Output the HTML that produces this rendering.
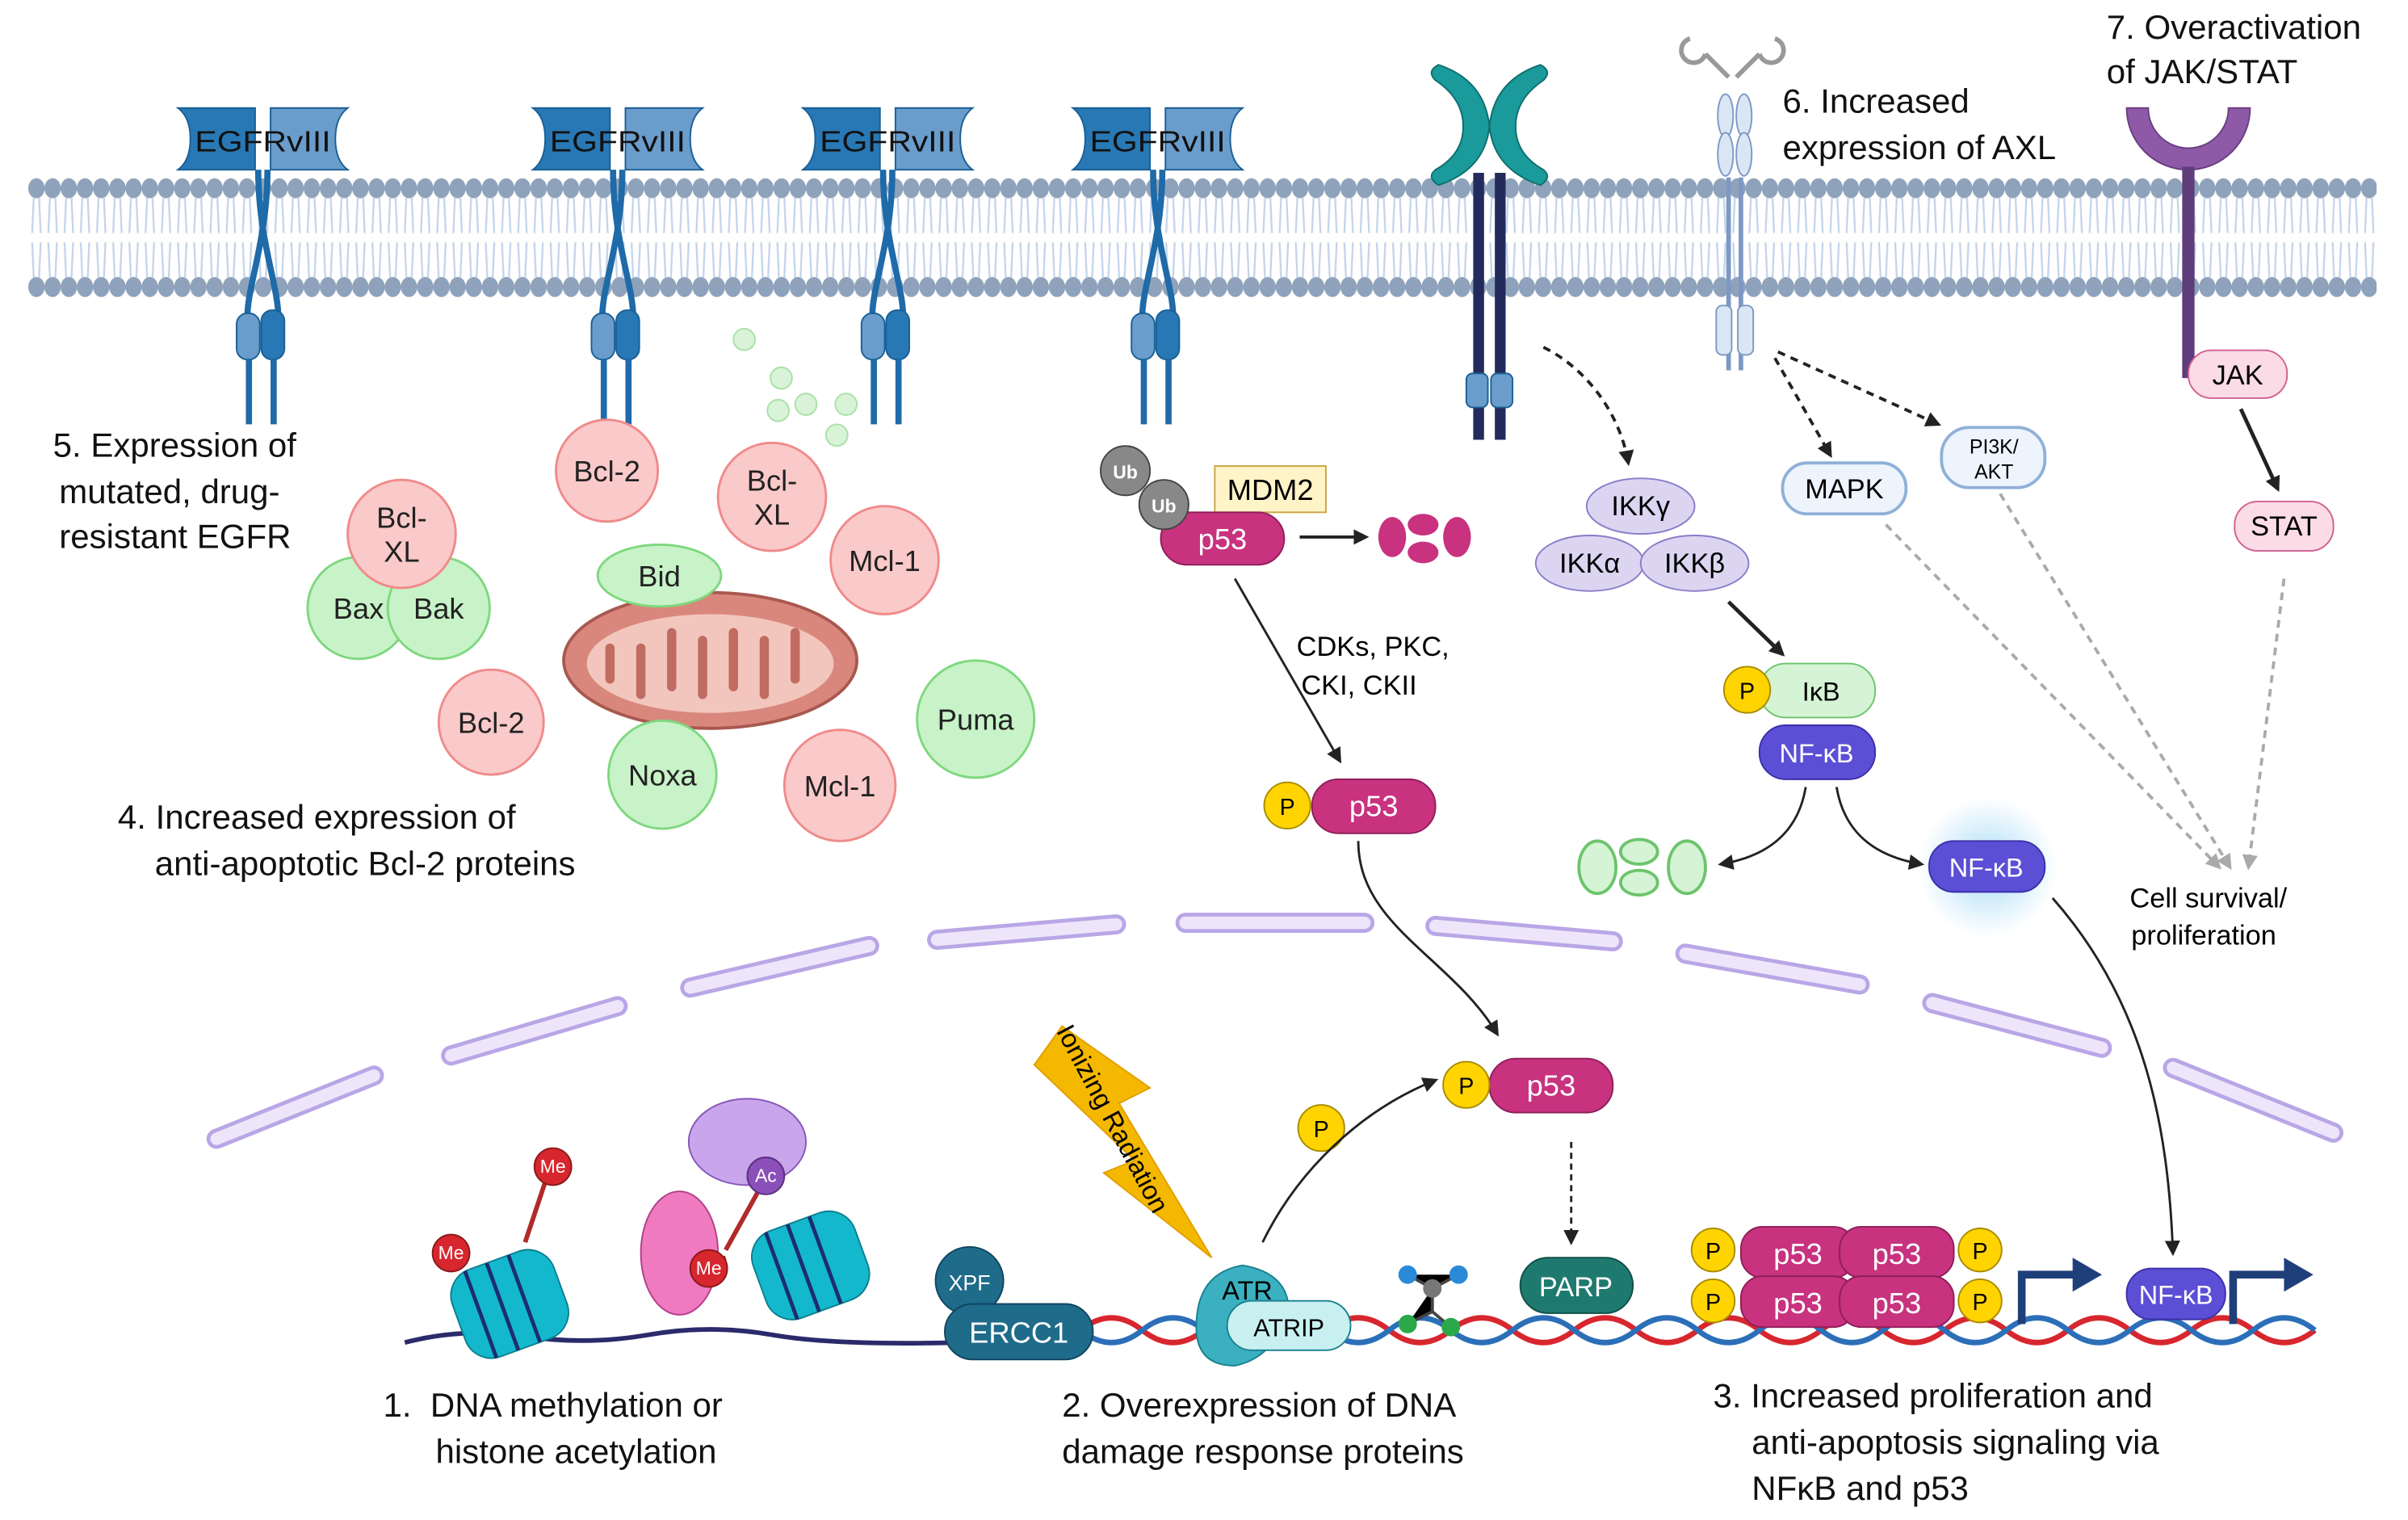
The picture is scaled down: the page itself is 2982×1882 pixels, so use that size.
<!DOCTYPE html>
<html><head><meta charset="utf-8"><style>
html,body{margin:0;padding:0;background:#fff;}
svg{display:block;}
text{font-family:"Liberation Sans",sans-serif;}
</style></head><body>
<svg width="2982" height="1882" viewBox="0 0 1560 985" xmlns="http://www.w3.org/2000/svg">
<defs>
<pattern id="heads" x="18" y="0" width="10.5" height="200" patternUnits="userSpaceOnUse">
<ellipse cx="5.25" cy="122" rx="5.3" ry="6.5" fill="#8ea2bb"/>
<ellipse cx="5.25" cy="186" rx="5.3" ry="6.5" fill="#8ea2bb"/>
<path d="M3.5 128 L2.5 151 M7 128 L8 151 M3.5 180 L2.5 157 M7 180 L8 157" stroke="#c3d4ea" stroke-width="1.2"/>
</pattern>
<marker id="ah" markerWidth="10" markerHeight="10" refX="8" refY="5" orient="auto" markerUnits="userSpaceOnUse"><path d="M0 0 L10 5 L0 10 Z" fill="#222"/></marker>
<marker id="ag" markerWidth="10" markerHeight="10" refX="8" refY="5" orient="auto" markerUnits="userSpaceOnUse"><path d="M0 0 L10 5 L0 10 Z" fill="#aaa"/></marker>
<radialGradient id="glow"><stop offset="0" stop-color="#9fd8f5" stop-opacity="0.9"/><stop offset="1" stop-color="#9fd8f5" stop-opacity="0"/></radialGradient>
<g id="egfr">
<path d="M-55 -55 h50 v40 h-50 q8 -6 8 -20 q0 -14 -8 -20z" fill="#2878b5" stroke="#1a5f95"/>
<path d="M55 -55 h-50 v40 h50 q-8 -6 -8 -20 q0 -14 8 -20z" fill="#6a9dcc" stroke="#1a5f95"/>
<path d="M-3 -15 C-3 30 10 60 10 80 M3 -15 C3 30 -10 60 -10 80" stroke="#1f6aa8" stroke-width="4" fill="none"/>
<rect x="-17" y="78" width="15" height="30" rx="7" fill="#6a9dcc" stroke="#1a5f95"/>
<rect x="-1" y="76" width="15" height="32" rx="7" fill="#2878b5" stroke="#1a5f95"/>
<path d="M-9 108 V150 M7 108 V150" stroke="#1f6aa8" stroke-width="4"/>
<text x="0" y="-27" font-size="19" text-anchor="middle" fill="#111" textLength="88" lengthAdjust="spacingAndGlyphs">EGFRvIII</text>
</g>
</defs>
<rect x="18" y="113" width="1522" height="82" fill="url(#heads)"/>
<use href="#egfr" x="170" y="125"/>
<use href="#egfr" x="400" y="125"/>
<use href="#egfr" x="575" y="125"/>
<use href="#egfr" x="750" y="125"/>
<!-- teal receptor -->
<path d="M932 42 q30 10 33 40 q-3 28 -33 38 q-8 -5 -2 -10 q18 -10 18 -28 q0 -18 -18 -30 q-6 -6 2 -10z" fill="#1a9a9a" stroke="#0e6e6e"/>
<path d="M998 42 q-30 10 -33 40 q3 28 33 38 q8 -5 2 -10 q-18 -10 -18 -28 q0 -18 18 -30 q6 -6 -2 -10z" fill="#1a9a9a" stroke="#0e6e6e"/>
<path d="M958 112 V285 M972 112 V285" stroke="#232a5c" stroke-width="7"/>
<rect x="950" y="242" width="14" height="22" rx="4" fill="#6a9dcc" stroke="#1a5f95"/>
<rect x="966" y="242" width="14" height="22" rx="4" fill="#6a9dcc" stroke="#1a5f95"/>
<!-- AXL -->
<path d="M1095 25 a8 8 0 1 0 10 10 M1150 25 a8 8 0 1 1 -10 10 M1105 35 q10 10 15 15 M1140 35 q-10 10 -15 15" stroke="#999" stroke-width="3" fill="none"/>
<ellipse cx="1118" cy="75" rx="5" ry="14" fill="#dbe6f5" stroke="#7d98c4"/><ellipse cx="1130" cy="75" rx="5" ry="14" fill="#dbe6f5" stroke="#7d98c4"/>
<ellipse cx="1118" cy="100" rx="5" ry="14" fill="#dbe6f5" stroke="#7d98c4"/><ellipse cx="1130" cy="100" rx="5" ry="14" fill="#dbe6f5" stroke="#7d98c4"/>
<path d="M1120 115 V240 M1128 115 V240" stroke="#7d98c4" stroke-width="3"/>
<rect x="1112" y="198" width="10" height="32" rx="4" fill="#dbe6f5" stroke="#7d98c4"/><rect x="1126" y="198" width="10" height="32" rx="4" fill="#dbe6f5" stroke="#7d98c4"/>
<!-- JAK receptor -->
<path d="M1378 70 a40 40 0 0 0 80 0 h-14 a26 26 0 0 1 -52 0z" fill="#8e5aa8" stroke="#6a3e82"/>
<path d="M1418 108 V245" stroke="#5e3d7a" stroke-width="8"/>
<!-- labels -->
<g font-size="22" fill="#111">
<text x="34" y="296">5. Expression of</text><text x="38" y="326">mutated, drug-</text><text x="38" y="355">resistant EGFR</text>
<text x="76" y="537">4. Increased expression of</text><text x="100" y="567">anti-apoptotic Bcl-2 proteins</text>
<text x="1155" y="73">6. Increased</text><text x="1155" y="103">expression of AXL</text>
<text x="1365" y="25">7. Overactivation</text><text x="1365" y="54">of JAK/STAT</text>
<text x="248" y="918" xml:space="preserve">1.  DNA methylation or</text><text x="282" y="948">histone acetylation</text>
<text x="688" y="918">2. Overexpression of DNA</text><text x="688" y="948">damage response proteins</text>
<text x="1110" y="912">3. Increased proliferation and</text><text x="1135" y="942">anti-apoptosis signaling via</text><text x="1135" y="972">NFκB and p53</text>
</g>
<!-- small dots -->
<g fill="#d8f3d8" stroke="#a9e0a9"><circle cx="482" cy="220" r="7"/><circle cx="506" cy="245" r="7"/><circle cx="522" cy="262" r="7"/><circle cx="548" cy="262" r="7"/><circle cx="504" cy="266" r="7"/><circle cx="542" cy="282" r="7"/></g>
<!-- Bcl proteins -->
<g font-size="19" text-anchor="middle" fill="#222">
<circle cx="232" cy="394" r="33" fill="#c8f2c8" stroke="#7ed87e" stroke-width="1.5"/><circle cx="284" cy="394" r="33" fill="#c8f2c8" stroke="#7ed87e" stroke-width="1.5"/>
<text x="232" y="401">Bax</text><text x="284" y="401">Bak</text>
<circle cx="260" cy="346" r="35" fill="#fac9c9" stroke="#f08a8a" stroke-width="1.5"/><text x="260" y="342">Bcl-</text><text x="260" y="364">XL</text>
<circle cx="393" cy="305" r="33" fill="#fac9c9" stroke="#f08a8a" stroke-width="1.5"/><text x="393" y="312">Bcl-2</text>
<circle cx="500" cy="322" r="35" fill="#fac9c9" stroke="#f08a8a" stroke-width="1.5"/><text x="500" y="318">Bcl-</text><text x="500" y="340">XL</text>
<circle cx="573" cy="363" r="35" fill="#fac9c9" stroke="#f08a8a" stroke-width="1.5"/><text x="573" y="370">Mcl-1</text>
<ellipse cx="460" cy="428" rx="95" ry="44" fill="#d9877d" stroke="#a8584f" stroke-width="2"/>
<ellipse cx="460" cy="430" rx="80" ry="32" fill="#f2c6bd"/>
<path d="M395 440 v-20 M415 450 v-30 M435 410 v35 M455 450 v-35 M475 410 v35 M495 450 v-35 M515 410 v30" stroke="#c06c62" stroke-width="6" stroke-linecap="round"/>
<ellipse cx="427" cy="373" rx="40" ry="20" fill="#c8f2c8" stroke="#7ed87e" stroke-width="1.5"/><text x="427" y="380">Bid</text>
<circle cx="632" cy="466" r="38" fill="#c8f2c8" stroke="#7ed87e" stroke-width="1.5"/><text x="632" y="473">Puma</text>
<circle cx="318" cy="468" r="34" fill="#fac9c9" stroke="#f08a8a" stroke-width="1.5"/><text x="318" y="475">Bcl-2</text>
<circle cx="429" cy="502" r="35" fill="#c8f2c8" stroke="#7ed87e" stroke-width="1.5"/><text x="429" y="509">Noxa</text>
<circle cx="544" cy="509" r="36" fill="#fac9c9" stroke="#f08a8a" stroke-width="1.5"/><text x="544" y="516">Mcl-1</text>
</g>
<!-- p53 / MDM2 -->
<rect x="787" y="302" width="72" height="30" fill="#fff3c8" stroke="#c9a640"/><text x="823" y="324" font-size="19" text-anchor="middle">MDM2</text>
<rect x="752" y="332" width="80" height="34" rx="17" fill="#c8327f" stroke="#8e1f58"/><text x="792" y="356" font-size="19" text-anchor="middle" fill="#fff">p53</text>
<circle cx="729" cy="305" r="16" fill="#888" stroke="#444"/><text x="729" y="310" font-size="12" text-anchor="middle" fill="#fff" font-weight="bold">Ub</text>
<circle cx="754" cy="327" r="16" fill="#888" stroke="#444"/><text x="754" y="332" font-size="12" text-anchor="middle" fill="#fff" font-weight="bold">Ub</text>
<path d="M842 348 H885" stroke="#222" stroke-width="2" marker-end="url(#ah)"/>
<g fill="#c8327f"><ellipse cx="902" cy="348" rx="9" ry="13"/><ellipse cx="922" cy="340" rx="10" ry="7"/><ellipse cx="922" cy="358" rx="10" ry="7"/><ellipse cx="944" cy="348" rx="9" ry="13"/></g>
<path d="M800 375 L868 493" stroke="#222" stroke-width="1.5" marker-end="url(#ah)"/>
<text x="840" y="425" font-size="18">CDKs, PKC,</text><text x="843" y="450" font-size="18">CKI, CKII</text>
<rect x="850" y="505" width="80" height="35" rx="17" fill="#c8327f" stroke="#8e1f58"/><text x="890" y="529" font-size="19" text-anchor="middle" fill="#fff">p53</text>
<circle cx="834" cy="522" r="15" fill="#ffd400" stroke="#a88b00"/><text x="834" y="528" font-size="15" text-anchor="middle">P</text>
<path d="M880 545 C880 600 940 620 970 670" stroke="#222" stroke-width="1.5" fill="none" marker-end="url(#ah)"/>
<rect x="965" y="686" width="80" height="35" rx="17" fill="#c8327f" stroke="#8e1f58"/><text x="1005" y="710" font-size="19" text-anchor="middle" fill="#fff">p53</text>
<circle cx="950" cy="703" r="15" fill="#ffd400" stroke="#a88b00"/><text x="950" y="709" font-size="15" text-anchor="middle">P</text>
<circle cx="856" cy="731" r="15" fill="#ffd400" stroke="#a88b00"/><text x="856" y="737" font-size="15" text-anchor="middle">P</text>
<path d="M818 805 C840 760 880 720 930 700" stroke="#222" stroke-width="1.5" fill="none" marker-end="url(#ah)"/>
<path d="M1018 740 V805" stroke="#222" stroke-width="1.5" stroke-dasharray="4 3" marker-end="url(#ah)"/>
<!-- IKK -->
<g font-size="18" text-anchor="middle">
<ellipse cx="1063" cy="328" rx="35" ry="18" fill="#dcd5f2" stroke="#8a7cc7"/><text x="1063" y="334">IKKγ</text>
<ellipse cx="1030" cy="365" rx="35" ry="18" fill="#dcd5f2" stroke="#8a7cc7"/><text x="1030" y="371">IKKα</text>
<ellipse cx="1098" cy="365" rx="35" ry="18" fill="#dcd5f2" stroke="#8a7cc7"/><text x="1098" y="371">IKKβ</text>
</g>
<path d="M1120 390 L1155 424" stroke="#222" stroke-width="2.5" marker-end="url(#ah)"/>
<rect x="1140" y="430" width="75" height="35" rx="17" fill="#d5f3d5" stroke="#6cc46c"/><text x="1180" y="454" font-size="17" text-anchor="middle">IκB</text>
<circle cx="1132" cy="447" r="15" fill="#ffd400" stroke="#a88b00"/><text x="1132" y="453" font-size="15" text-anchor="middle">P</text>
<rect x="1140" y="470" width="75" height="35" rx="17" fill="#5b4fd6" stroke="#3b30a8"/><text x="1177" y="494" font-size="17" text-anchor="middle" fill="#fff">NF-κB</text>
<path d="M1170 510 C1165 540 1145 555 1115 560" stroke="#222" stroke-width="1.5" fill="none" marker-end="url(#ah)"/>
<path d="M1190 510 C1195 540 1215 555 1245 560" stroke="#222" stroke-width="1.5" fill="none" marker-end="url(#ah)"/>
<g fill="#d5f3d5" stroke="#6cc46c" stroke-width="2"><ellipse cx="1035" cy="562" rx="12" ry="17"/><ellipse cx="1062" cy="552" rx="12" ry="8"/><ellipse cx="1062" cy="572" rx="12" ry="8"/><ellipse cx="1093" cy="562" rx="12" ry="17"/></g>
<circle cx="1288" cy="562" r="45" fill="url(#glow)"/>
<rect x="1250" y="545" width="75" height="33" rx="16" fill="#5b4fd6" stroke="#3b30a8"/><text x="1287" y="568" font-size="17" text-anchor="middle" fill="#fff">NF-κB</text>
<path d="M1330 582 C1390 650 1405 730 1408 812" stroke="#222" stroke-width="1.5" fill="none" marker-end="url(#ah)"/>
<!-- AXL paths -->
<path d="M1000 225 C1030 240 1050 270 1055 300" stroke="#222" stroke-width="2" stroke-dasharray="5 4" fill="none" marker-end="url(#ah)"/>
<path d="M1150 232 L1186 295" stroke="#222" stroke-width="2" stroke-dasharray="5 4" marker-end="url(#ah)"/>
<path d="M1152 228 L1256 275" stroke="#222" stroke-width="2" stroke-dasharray="5 4" marker-end="url(#ah)"/>
<rect x="1155" y="300" width="80" height="33" rx="16" fill="#eef4fc" stroke="#8fb0d8" stroke-width="2"/><text x="1195" y="323" font-size="18" text-anchor="middle">MAPK</text>
<rect x="1258" y="277" width="67" height="39" rx="18" fill="#eef4fc" stroke="#8fb0d8" stroke-width="2"/><text x="1292" y="294" font-size="13" text-anchor="middle">PI3K/</text><text x="1292" y="310" font-size="13" text-anchor="middle">AKT</text>
<rect x="1418" y="227" width="64" height="31" rx="15" fill="#fadbe6" stroke="#d06090"/><text x="1450" y="249" font-size="18" text-anchor="middle">JAK</text>
<path d="M1452 265 L1476 317" stroke="#222" stroke-width="2.5" marker-end="url(#ah)"/>
<rect x="1448" y="325" width="64" height="32" rx="15" fill="#fadbe6" stroke="#d06090"/><text x="1480" y="347" font-size="18" text-anchor="middle">STAT</text>
<g stroke="#aaa" stroke-width="2" stroke-dasharray="5 4" fill="none">
<path d="M1222 340 L1438 562" marker-end="url(#ag)"/><path d="M1296 320 L1445 562" marker-end="url(#ag)"/><path d="M1480 375 L1457 562" marker-end="url(#ag)"/>
</g>
<text x="1380" y="588" font-size="18">Cell survival/</text><text x="1381" y="612" font-size="18">proliferation</text>
<!-- nucleus envelope -->
<g stroke-linecap="round" fill="none">
<path d="M140 738 L242 697 M292 684 L400 652 M447 640 L563 613 M607 609 L723 599 M768 598 L884 598 M930 600 L1045 610 M1092 618 L1205 638 M1252 650 L1362 679 M1408 692 L1512 734" stroke="#b9a6e6" stroke-width="13"/>
<path d="M140 738 L242 697 M292 684 L400 652 M447 640 L563 613 M607 609 L723 599 M768 598 L884 598 M930 600 L1045 610 M1092 618 L1205 638 M1252 650 L1362 679 M1408 692 L1512 734" stroke="#ede6fb" stroke-width="8"/>
</g>
<!-- DNA -->
<path d="M262 870 Q300 860 340 866 T420 865 T500 865 T620 870" stroke="#2b2a6b" stroke-width="3" fill="none"/>
<path d="M700 862 q20 -16 40 0 t40 0 t40 0 t40 0 t40 0 t40 0 t40 0 t40 0 t40 0 t40 0 t40 0 t40 0 t40 0 t40 0 t40 0 t40 0 t40 0 t40 0 t40 0 t40 0" stroke="#d8262e" stroke-width="3.5" fill="none"/>
<path d="M700 862 q20 16 40 0 t40 0 t40 0 t40 0 t40 0 t40 0 t40 0 t40 0 t40 0 t40 0 t40 0 t40 0 t40 0 t40 0 t40 0 t40 0 t40 0 t40 0 t40 0 t40 0" stroke="#2c6fb8" stroke-width="3.5" fill="none"/>
<!-- nucleosomes -->
<g transform="rotate(-20 330 845)"><rect x="295" y="815" width="70" height="60" rx="18" fill="#14b8cc" stroke="#0a7f8f"/><path d="M310 815 v60 M325 815 v60 M340 815 v60" stroke="#1d2d70" stroke-width="2.5"/></g>
<g transform="rotate(-20 525 820)"><rect x="490" y="790" width="70" height="60" rx="18" fill="#14b8cc" stroke="#0a7f8f"/><path d="M505 790 v60 M520 790 v60 M535 790 v60" stroke="#1d2d70" stroke-width="2.5"/></g>
<path d="M298 815 L292 812 M340 805 L355 760 M455 820 L470 815 M470 810 L495 765" stroke="#b02a2a" stroke-width="3"/>
<g font-size="12" text-anchor="middle" fill="#fff">
<circle cx="292" cy="812" r="12" fill="#d8262e" stroke="#8a1a1a"/><text x="292" y="816">Me</text>
<circle cx="358" cy="756" r="12" fill="#d8262e" stroke="#8a1a1a"/><text x="358" y="760">Me</text>
<ellipse cx="440" cy="812" rx="25" ry="40" fill="#f07ac0" stroke="#b03f86"/>
<circle cx="459" cy="822" r="12" fill="#d8262e" stroke="#8a1a1a"/><text x="459" y="826">Me</text>
<ellipse cx="484" cy="740" rx="38" ry="28" fill="#c9a6ec" stroke="#8756b8"/>
<circle cx="496" cy="762" r="12" fill="#8a4fb8" stroke="#5a2f80"/><text x="496" y="766">Ac</text>
</g>
<!-- repair proteins -->
<circle cx="628" cy="830" r="22" fill="#1f6b8a" stroke="#0f4560"/><text x="628" y="836" font-size="14" text-anchor="middle" fill="#fff">XPF</text>
<rect x="612" y="845" width="96" height="36" rx="18" fill="#1f6b8a" stroke="#0f4560"/><text x="660" y="870" font-size="19" text-anchor="middle" fill="#fff">ERCC1</text>
<path d="M688 665 L745 705 L725 715 L785 815 L715 760 L735 752 L670 690 Z" fill="#f5b800" stroke="#e0a000"/>
<text transform="translate(684 668) rotate(62)" font-size="17">Ionizing Radiation</text>
<path d="M775 860 q0 -35 30 -40 q30 5 30 30 q-10 30 -35 35 q-25 0 -25 -25z" fill="#3ab0c0" stroke="#1a8090"/><text x="808" y="842" font-size="17" text-anchor="middle">ATR</text>
<rect x="795" y="843" width="80" height="32" rx="16" fill="#c8f0f0" stroke="#1a8090"/><text x="835" y="866" font-size="16" text-anchor="middle">ATRIP</text>
<g stroke="#444" stroke-width="2"><path d="M912 826 L928 835 L945 826 M928 835 L928 850 L912 858 M928 850 L940 860"/></g>
<circle cx="912" cy="826" r="6" fill="#2a8ad8"/><circle cx="945" cy="826" r="6" fill="#2a8ad8"/><circle cx="928" cy="835" r="6" fill="#777"/><circle cx="912" cy="858" r="6" fill="#2aa84a"/><circle cx="940" cy="860" r="6" fill="#2aa84a"/>
<rect x="985" y="815" width="73" height="36" rx="18" fill="#1e7a6e" stroke="#0f4f47"/><text x="1021" y="840" font-size="18" text-anchor="middle" fill="#fff">PARP</text>
<!-- p53 tetramer -->
<g font-size="19" text-anchor="middle" fill="#fff">
<rect x="1128" y="795" width="74" height="33" rx="14" fill="#c8327f" stroke="#8e1f58"/><text x="1165" y="819">p53</text>
<rect x="1192" y="795" width="74" height="33" rx="14" fill="#c8327f" stroke="#8e1f58"/><text x="1229" y="819">p53</text>
<rect x="1128" y="827" width="74" height="33" rx="14" fill="#c8327f" stroke="#8e1f58"/><text x="1165" y="851">p53</text>
<rect x="1192" y="827" width="74" height="33" rx="14" fill="#c8327f" stroke="#8e1f58"/><text x="1229" y="851">p53</text>
</g>
<g font-size="15" text-anchor="middle">
<circle cx="1110" cy="810" r="14" fill="#ffd400" stroke="#a88b00"/><text x="1110" y="816">P</text>
<circle cx="1110" cy="843" r="14" fill="#ffd400" stroke="#a88b00"/><text x="1110" y="849">P</text>
<circle cx="1283" cy="810" r="14" fill="#ffd400" stroke="#a88b00"/><text x="1283" y="816">P</text>
<circle cx="1283" cy="843" r="14" fill="#ffd400" stroke="#a88b00"/><text x="1283" y="849">P</text>
</g>
<path d="M1310 858 V826 H1345" stroke="#1f3f7a" stroke-width="5" fill="none"/><path d="M1343 815 L1362 826 L1343 837Z" fill="#1f3f7a"/>
<path d="M1447 858 V826 H1482" stroke="#1f3f7a" stroke-width="5" fill="none"/><path d="M1480 815 L1499 826 L1480 837Z" fill="#1f3f7a"/>
<rect x="1378" y="822" width="64" height="33" rx="16" fill="#5b4fd6" stroke="#3b30a8"/><text x="1410" y="845" font-size="17" text-anchor="middle" fill="#fff">NF-κB</text>
</svg>
</body></html>
